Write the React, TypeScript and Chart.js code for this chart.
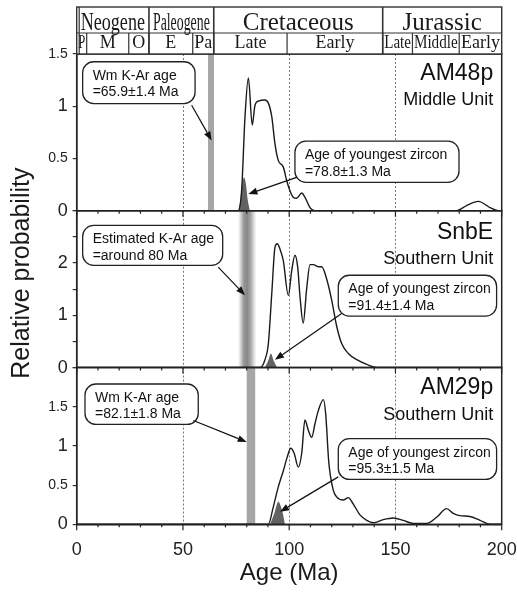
import React, { useEffect, useRef } from 'react';
import { Chart, registerables } from 'chart.js';

Chart.register(...registerables);

const SANS = '"Liberation Sans", Arial, Helvetica, sans-serif';
const SERIF = '"Liberation Serif", "Times New Roman", serif';

// ---------- Data ----------
// AM48p (Middle Unit)
const am48pAge = [0, 76, 77.6, 79.2, 80.8, 82.6, 83.9, 85.5, 88.6, 90.2, 91.8, 93.3, 94.9, 97.2, 98.8, 100.4, 101.9, 103.5, 105.9, 107.4, 109.8, 112, 178.5, 183.5, 189, 194.5, 199, 200];
const am48pProb = [0, 0, 0.19, 0.9, 1.27, 0.82, 1.01, 1.05, 1.06, 1.03, 0.9, 0.64, 0.48, 0.42, 0.29, 0.19, 0.13, 0.12, 0.17, 0.13, 0.03, 0, 0, 0.05, 0.09, 0.03, 0, 0];
const am48pZirconAge = [76, 77, 78, 78.8, 79.6, 80.5, 81.5];
const am48pZirconProb = [0, 0.1, 0.27, 0.32, 0.26, 0.1, 0];

// SnbE (Southern Unit)
const snbeAge = [0, 86.3, 88.6, 90.2, 91.8, 93.3, 94.4, 95.8, 97.2, 99.6, 101.2, 102.7, 104, 105.1, 106.6, 108.2, 109.8, 111.3, 113.7, 115.3, 117.6, 120, 122.4, 124.7, 127.8, 131.8, 136.5, 141.2, 200];
const snbeProb = [0, 0, 0.15, 0.46, 1.42, 2.3, 2.37, 2.25, 2.05, 1.38, 1.86, 2.15, 1.92, 1.35, 0.85, 1.5, 1.97, 1.97, 1.93, 1.93, 1.7, 1.29, 0.78, 0.46, 0.27, 0.15, 0.06, 0, 0];
const snbeZirconAge = [88.5, 90, 91.4, 92.8, 94.3];
const snbeZirconProb = [0, 0.12, 0.27, 0.12, 0];

// AM29p (Southern Unit)
const am29pAge = [0, 90.2, 92.5, 94.9, 97.2, 99.1, 100.7, 102.3, 104.3, 105.9, 107.4, 109, 110.6, 112.1, 113.7, 116.1, 117.2, 118.6, 120.7, 122.3, 125.4, 127.8, 130.1, 133.3, 136.5, 139.6, 144.3, 149, 153.7, 158.4, 164.7, 169.4, 174.1, 177.2, 180.3, 185, 189.8, 194.5, 200];
const am29pProb = [0, 0, 0.22, 0.48, 0.68, 0.86, 0.97, 0.91, 0.73, 0.91, 1.33, 1.2, 1.11, 1.28, 1.45, 1.59, 1.4, 0.8, 0.44, 0.35, 0.31, 0.34, 0.26, 0.12, 0.05, 0.02, 0.06, 0.08, 0.05, 0.01, 0.01, 0.09, 0.2, 0.14, 0.11, 0.1, 0.05, 0, 0];
const am29pZirconAge = [91, 93, 94.9, 96.8, 98];
const am29pZirconProb = [0, 0.14, 0.29, 0.16, 0];

// K-Ar age bands (Ma)
const bandLow = [61.8, 76, 80];
const bandHigh = [64.6, 84.6, 84];

// Dotted guide ages
const guideAges = [50, 100, 150];

// Panels (top to bottom)
const panelIds = ['y1', 'y2', 'y3'];
const panelMax = [1.5, 3, 2];
const panelStep = [0.5, 0.5, 0.5];
const panelMajors = [[0, 0.5, 1, 1.5], [0, 1, 2], [0, 0.5, 1, 1.5]];
const sampleNames = ['AM48p', 'SnbE', 'AM29p'];
const unitNames = ['Middle Unit', 'Southern Unit', 'Southern Unit'];

// Geologic time scale header
const periodNames = ['Neogene', 'Paleogene', 'Cretaceous', 'Jurassic'];
const periodBounds = [0, 34, 64.5, 144, 200];
const epochNames = ['P', 'M', 'O', 'E', 'Pa', 'Late', 'Early', 'Late', 'Middle', 'Early'];
const epochBounds = [0, 4.7, 24.5, 34, 54.6, 64.5, 99, 144, 158, 180, 200];

// X ticks
const xTickLabels = [0, 50, 100, 150, 200];

// Annotations (data coordinates of each panel)
const annotations = [
  { axis: 'y1', box: [2.8, 1.426, 55.7, 1.026], lines: ['Wm K-Ar age', '=65.9\u00B11.4 Ma'], arrow: [54.1, 1.01, 63.5, 0.673] },
  { axis: 'y1', box: [102.7, 0.666, 179.9, 0.272], lines: ['Age of youngest zircon', '=78.8\u00B11.3 Ma'], arrow: [103.5, 0.32, 80.8, 0.16] },
  { axis: 'y2', box: [2.8, 2.72, 68.7, 1.956], lines: ['Estimated K-Ar age', '=around 80 Ma'], arrow: [66.6, 1.92, 79.2, 1.385] },
  { axis: 'y2', box: [123.1, 1.766, 197.6, 0.985], lines: ['Age of youngest zircon', '=91.4\u00B11.4 Ma'], arrow: [124.7, 1.036, 93.3, 0.147] },
  { axis: 'y3', box: [3.9, 1.79, 57.2, 1.274], lines: ['Wm K-Ar age', '=82.1\u00B11.8 Ma'], arrow: [54.9, 1.325, 80, 1.05] },
  { axis: 'y3', box: [123.1, 1.093, 197.6, 0.572], lines: ['Age of youngest zircon', '=95.3\u00B11.5 Ma'], arrow: [123.1, 0.605, 95.7, 0.16] },
];
const nameLayout = [
  { name: 1.25, unit: 1.01 },
  { name: 2.46, unit: 1.99 },
  { name: 1.66, unit: 1.325 },
];

// ---------- Helpers ----------
const pts = (a: number[], p: number[]) => a.map((x, i) => ({ x, y: p[i] }));

const curve = (a: number[], p: number[], axis: string) => ({
  data: pts(a, p),
  yAxisID: axis,
  borderColor: '#1a1a1a',
  borderWidth: 1.4,
  pointRadius: 0,
  fill: false,
  cubicInterpolationMode: 'monotone',
  order: 0,
});

const zircon = (a: number[], p: number[], axis: string) => ({
  data: pts(a, p),
  yAxisID: axis,
  borderColor: 'rgba(0,0,0,0)',
  borderWidth: 0,
  backgroundColor: '#626262',
  pointRadius: 0,
  fill: 'origin',
  tension: 0.3,
  order: 1,
});

const yAxis = (i: number) => ({
  type: 'linear',
  position: 'left',
  stack: 'panels',
  stackWeight: 1,
  min: 0,
  max: panelMax[i],
  ticks: {
    stepSize: panelStep[i],
    autoSkip: false,
    padding: 5,
    color: '#222',
    font: (c: any) => ({ family: SANS, size: c.tick && Number.isInteger(c.tick.value) ? 18 : 14 }),
    callback: (v: number) => (panelMajors[i].includes(v) ? String(v) : ''),
  },
  grid: { drawOnChartArea: false, drawTicks: true, tickLength: 4, color: '#333', tickColor: '#333', lineWidth: 1.2 },
  border: { display: true, color: '#222', width: 1.5 },
  afterFit: (s: any) => {
    s.width = 76.7;
    s.paddingTop = 0;
    s.paddingBottom = 0;
  },
});

function roundRect(ctx: CanvasRenderingContext2D, x: number, y: number, w: number, h: number, r: number) {
  ctx.beginPath();
  ctx.moveTo(x + r, y);
  ctx.arcTo(x + w, y, x + w, y + h, r);
  ctx.arcTo(x + w, y + h, x, y + h, r);
  ctx.arcTo(x, y + h, x, y, r);
  ctx.arcTo(x, y, x + w, y, r);
  ctx.closePath();
}

function arrow(ctx: CanvasRenderingContext2D, x1: number, y1: number, x2: number, y2: number) {
  const ang = Math.atan2(y2 - y1, x2 - x1);
  const len = 9;
  const hw = 3.5;
  const bx = x2 - len * Math.cos(ang);
  const by = y2 - len * Math.sin(ang);
  ctx.beginPath();
  ctx.moveTo(x1, y1);
  ctx.lineTo(bx, by);
  ctx.strokeStyle = '#111';
  ctx.lineWidth = 1.2;
  ctx.stroke();
  ctx.beginPath();
  ctx.moveTo(x2, y2);
  ctx.lineTo(bx + hw * Math.sin(ang), by - hw * Math.cos(ang));
  ctx.lineTo(bx - hw * Math.sin(ang), by + hw * Math.cos(ang));
  ctx.closePath();
  ctx.fillStyle = '#111';
  ctx.fill();
}

const panelPlugin = {
  id: 'panelPlugin',
  beforeDatasetsDraw(chart: any) {
    const { ctx, scales } = chart;
    const xs = scales.x;
    ctx.save();
    panelIds.forEach((id, i) => {
      const ys = scales[id];
      const x1 = xs.getPixelForValue(bandLow[i]);
      const x2 = xs.getPixelForValue(bandHigh[i]);
      if (i === 1) {
        const g = ctx.createLinearGradient(x1, 0, x2, 0);
        g.addColorStop(0, 'rgba(150,150,150,0)');
        g.addColorStop(0.3, 'rgba(140,140,140,0.9)');
        g.addColorStop(0.5, 'rgba(135,135,135,1)');
        g.addColorStop(0.7, 'rgba(150,150,150,0.8)');
        g.addColorStop(1, 'rgba(170,170,170,0)');
        ctx.fillStyle = g;
      } else {
        ctx.fillStyle = '#a6a6a6';
      }
      ctx.fillRect(x1, ys.top, x2 - x1, ys.bottom - ys.top);
      ctx.setLineDash([2, 2]);
      ctx.strokeStyle = '#777';
      ctx.lineWidth = 1;
      guideAges.forEach((a) => {
        const px = Math.round(xs.getPixelForValue(a)) + 0.5;
        ctx.beginPath();
        ctx.moveTo(px, ys.top);
        ctx.lineTo(px, ys.bottom);
        ctx.stroke();
      });
      ctx.setLineDash([]);
    });
    ctx.restore();
  },
  afterDatasetsDraw(chart: any) {
    const { ctx, scales } = chart;
    const xs = scales.x;
    ctx.save();
    // frames + x ticks
    panelIds.forEach((id) => {
      const ys = scales[id];
      ctx.strokeStyle = '#222';
      ctx.lineWidth = 1.5;
      ctx.strokeRect(xs.left, ys.top, xs.right - xs.left, ys.bottom - ys.top);
      ctx.lineWidth = 1.2;
      for (let v = 0; v <= 200; v += 10) {
        const px = xs.getPixelForValue(v);
        const len = v % 50 === 0 ? 6 : 3;
        ctx.beginPath();
        ctx.moveTo(px, ys.bottom);
        ctx.lineTo(px, ys.bottom + len);
        ctx.stroke();
      }
    });
    // annotations
    annotations.forEach((an) => {
      const ys = scales[an.axis];
      const l = xs.getPixelForValue(an.box[0]);
      const t = ys.getPixelForValue(an.box[1]);
      const r = xs.getPixelForValue(an.box[2]);
      const b = ys.getPixelForValue(an.box[3]);
      roundRect(ctx, l, t, r - l, b - t, 11);
      ctx.fillStyle = '#fff';
      ctx.fill();
      ctx.strokeStyle = '#222';
      ctx.lineWidth = 1.3;
      ctx.stroke();
      ctx.fillStyle = '#111';
      ctx.font = `14px ${SANS}`;
      ctx.textAlign = 'left';
      ctx.textBaseline = 'alphabetic';
      an.lines.forEach((line, k) => {
        ctx.fillText(line, l + 10, t + 18 + k * 16.5);
      });
      arrow(
        ctx,
        xs.getPixelForValue(an.arrow[0]),
        ys.getPixelForValue(an.arrow[1]),
        xs.getPixelForValue(an.arrow[2]),
        ys.getPixelForValue(an.arrow[3])
      );
    });
    // sample names
    panelIds.forEach((id, i) => {
      const ys = scales[id];
      const rx = xs.getPixelForValue(196);
      ctx.textAlign = 'right';
      ctx.fillStyle = '#111';
      ctx.font = `23px ${SANS}`;
      ctx.fillText(sampleNames[i], rx, ys.getPixelForValue(nameLayout[i].name));
      ctx.font = `18px ${SANS}`;
      ctx.fillText(unitNames[i], rx, ys.getPixelForValue(nameLayout[i].unit));
    });
    ctx.restore();
  },
  afterDraw(chart: any) {
    const { ctx, chartArea, scales } = chart;
    const xs = scales.x;
    ctx.save();
    const top = 7;
    const mid = 33;
    const bottom = chartArea.top;
    const left = xs.getPixelForValue(0);
    const right = xs.getPixelForValue(200);
    ctx.fillStyle = '#fff';
    ctx.fillRect(left, top, right - left, bottom - top);
    ctx.strokeStyle = '#333';
    ctx.lineWidth = 1.4;
    ctx.strokeRect(left, top, right - left, bottom - top);
    ctx.lineWidth = 1.2;
    ctx.beginPath();
    ctx.moveTo(left + 2.5, top);
    ctx.lineTo(left + 2.5, bottom);
    ctx.moveTo(left, mid);
    ctx.lineTo(right, mid);
    ctx.stroke();
    // period row
    ctx.fillStyle = '#1a1a1a';
    ctx.textAlign = 'center';
    ctx.textBaseline = 'alphabetic';
    ctx.font = `25px ${SERIF}`;
    periodNames.forEach((n, i) => {
      const a = xs.getPixelForValue(periodBounds[i]);
      const b = xs.getPixelForValue(periodBounds[i + 1]);
      if (i > 0) {
        ctx.lineWidth = 1.6;
        ctx.beginPath();
        ctx.moveTo(a, top);
        ctx.lineTo(a, bottom);
        ctx.stroke();
      }
      ctx.fillText(n, (a + b) / 2, 30, b - a - 8);
    });
    // epoch row
    ctx.font = `18px ${SERIF}`;
    epochNames.forEach((n, i) => {
      const a = xs.getPixelForValue(epochBounds[i]);
      const b = xs.getPixelForValue(epochBounds[i + 1]);
      if (i > 0) {
        ctx.lineWidth = 1.2;
        ctx.beginPath();
        ctx.moveTo(a, mid);
        ctx.lineTo(a, bottom);
        ctx.stroke();
      }
      ctx.fillText(n, (a + b) / 2, 47.5, Math.max(2, b - a - 3));
    });
    // y title
    ctx.translate(22, (chartArea.top + chartArea.bottom) / 2 - 16);
    ctx.rotate(-Math.PI / 2);
    ctx.textAlign = 'center';
    ctx.textBaseline = 'middle';
    ctx.font = `25px ${SANS}`;
    ctx.fillStyle = '#1a1a1a';
    ctx.fillText('Relative probability', 0, 0);
    ctx.restore();
  },
};

export default function App() {
  const ref = useRef<HTMLCanvasElement>(null);
  useEffect(() => {
    document.body.style.margin = '0';
    // stacked axes are laid out bottom-first
    const yScales: any = {};
    [2, 1, 0].forEach((i) => {
      yScales[panelIds[i]] = yAxis(i);
    });
    const chart = new Chart(ref.current as HTMLCanvasElement, {
      type: 'line',
      data: {
        datasets: [
          curve(am48pAge, am48pProb, 'y1'),
          zircon(am48pZirconAge, am48pZirconProb, 'y1'),
          curve(snbeAge, snbeProb, 'y2'),
          zircon(snbeZirconAge, snbeZirconProb, 'y2'),
          curve(am29pAge, am29pProb, 'y3'),
          zircon(am29pZirconAge, am29pZirconProb, 'y3'),
        ] as any,
      },
      options: {
        animation: false,
        responsive: false,
        layout: { padding: { left: 0, right: 15.3, top: 54, bottom: 0 } },
        plugins: { legend: { display: false }, tooltip: { enabled: false } },
        scales: {
          x: {
            type: 'linear',
            min: 0,
            max: 200,
            ticks: {
              stepSize: 10,
              autoSkip: false,
              maxRotation: 0,
              padding: 7,
              color: '#222',
              font: { family: SANS, size: 18 },
              callback: (v: any) => (xTickLabels.includes(v) ? String(v) : ''),
            },
            grid: { display: false },
            border: { display: true, color: '#222', width: 1.5 },
            title: {
              display: true,
              text: 'Age (Ma)',
              color: '#1a1a1a',
              font: { family: SANS, size: 24 },
              padding: { top: 0, bottom: 4 },
            },
            afterFit: (s: any) => {
              s.height = 67.7;
              s.paddingLeft = 0;
              s.paddingRight = 0;
            },
          },
          ...yScales,
        },
      } as any,
      plugins: [panelPlugin],
    });
    return () => chart.destroy();
  }, []);
  return <canvas ref={ref} width={517} height={592} style={{ display: 'block', width: 517, height: 592 }} />;
}
